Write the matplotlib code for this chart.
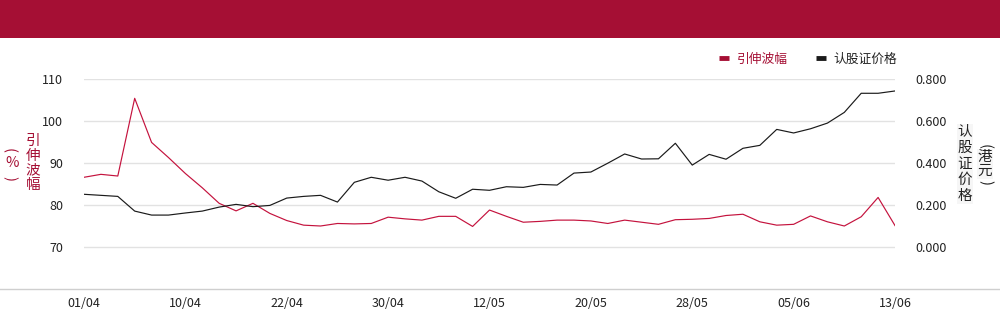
import matplotlib
matplotlib.use("Agg")
import matplotlib.pyplot as plt
from matplotlib.lines import Line2D
from matplotlib.patches import Rectangle

plt.rcParams['font.family'] = ['Noto Sans CJK SC', 'DejaVu Sans']

# implied volatility (%) and warrant price (HKD), one point per trading day
iv = [86.6, 87.3, 86.9, 105.4, 94.9, 91.3, 87.5, 84.1, 80.4, 78.6,
      80.4, 78.0, 76.3, 75.2, 75.0, 75.6, 75.5, 75.6, 77.1, 76.7,
      76.4, 77.3, 77.3, 74.9, 78.8, 77.3, 75.9, 76.1, 76.4, 76.4,
      76.2, 75.6, 76.4, 75.9, 75.4, 76.5, 76.6, 76.8, 77.5, 77.8,
      76.0, 75.2, 75.4, 77.4, 76.0, 75.0, 77.2, 81.8, 75.1]
price = [0.251, 0.246, 0.241, 0.171, 0.152, 0.152, 0.162, 0.171, 0.190, 0.203,
         0.192, 0.198, 0.233, 0.241, 0.246, 0.214, 0.308, 0.332, 0.318, 0.332,
         0.314, 0.263, 0.232, 0.275, 0.270, 0.287, 0.284, 0.298, 0.295, 0.352,
         0.357, 0.399, 0.443, 0.419, 0.420, 0.494, 0.390, 0.441, 0.418, 0.470,
         0.484, 0.560, 0.543, 0.563, 0.590, 0.641, 0.732, 0.732, 0.743]
tick_pos = [0, 6, 12, 18, 24, 30, 36, 42, 48]
tick_labels = ['01/04', '10/04', '22/04', '30/04', '12/05',
               '20/05', '28/05', '05/06', '13/06']
iv_ticks = [70, 80, 90, 100, 110]
price_ticks = [0.0, 0.2, 0.4, 0.6, 0.8]

RED = '#a50f34'
LINE_RED = '#c4123d'
BLACK = '#1a1a1a'
TXT = '#222222'
W, H = 1000, 324

fig = plt.figure(figsize=(10, 3.24), dpi=100)

def fx(px):
    return px / W

def fy(py):
    return 1 - py / H

# banner across the top
fig.patches.append(Rectangle((0, fy(38)), 1, 38 / H, transform=fig.transFigure,
                             facecolor=RED, edgecolor='none'))
# baseline under the plot
fig.lines.append(Line2D([0, 1], [fy(289)] * 2, transform=fig.transFigure,
                        color='#cfcfcf', lw=1))

left, right, top, bottom = 84, 895, 79, 289
ax = fig.add_axes([fx(left), fy(bottom), (right - left) / W, (bottom - top) / H])
ax2 = ax.twinx()

x = list(range(len(iv)))
ax.plot(x, iv, color=LINE_RED, lw=0.85, zorder=3)
ax2.plot(x, price, color=BLACK, lw=0.85, zorder=3)

ax.set_xlim(0, 48)
ax.set_ylim(60, 110)
ax2.set_ylim(-0.2, 0.8)
ax.set_yticks(iv_ticks)
ax2.set_yticks(price_ticks)
ax2.set_yticklabels([f'{v:.3f}' for v in price_ticks])
ax.set_xticks(tick_pos)
ax.set_xticklabels(tick_labels)

ax.grid(axis='y', color='#e2e2e2', lw=1)
ax.set_axisbelow(True)
for a in (ax, ax2):
    for s in a.spines.values():
        s.set_visible(False)
    a.patch.set_visible(False)
ax.tick_params(axis='y', length=0, pad=15, labelsize=9, labelcolor=TXT)
ax2.tick_params(axis='y', length=0, pad=15, labelsize=9, labelcolor=TXT)
ax.tick_params(axis='x', length=0, pad=6, labelsize=9, labelcolor=TXT)

# left axis title: stacked characters, unit in turned brackets
fig.text(fx(33), fy(163), '\n'.join('引伸波幅'), color=RED, fontsize=10.5,
         ha='center', va='center', linespacing=1.05)
fig.text(fx(12), fy(149), ')', color=RED, fontsize=10.5, rotation=90,
         ha='center', va='center')
fig.text(fx(12), fy(163), '%', color=RED, fontsize=10.5, ha='center', va='center')
fig.text(fx(12), fy(178), '(', color=RED, fontsize=10.5, rotation=90,
         ha='center', va='center')

# right axis title
fig.text(fx(965), fy(164), '\n'.join('认股证价格'), color=TXT, fontsize=10.5,
         ha='center', va='center', linespacing=1.2,
         bbox=dict(facecolor='#f6f6f6', edgecolor='none', pad=0.5))
fig.text(fx(985), fy(146), '(', color=TXT, fontsize=10.5, rotation=-90,
         ha='center', va='center')
fig.text(fx(985), fy(164), '港\n元', color=TXT, fontsize=10.5,
         ha='center', va='center', linespacing=1.05,
         bbox=dict(facecolor='#f6f6f6', edgecolor='none', pad=0.5))
fig.text(fx(985), fy(183), ')', color=TXT, fontsize=10.5, rotation=-90,
         ha='center', va='center')

# legend
handles = [Line2D([], [], color=RED, lw=3.5, solid_capstyle='butt'),
           Line2D([], [], color=BLACK, lw=3.5, solid_capstyle='butt')]
fig.legend(handles, ['引伸波幅', '认股证价格'], loc='center right',
           bbox_to_anchor=(fx(909), fy(59)), ncol=2, frameon=False,
           fontsize=9.2, handlelength=0.8, handletextpad=0.6, columnspacing=2.2,
           labelcolor=[RED, TXT])

fig.savefig('out.png', dpi=100)
